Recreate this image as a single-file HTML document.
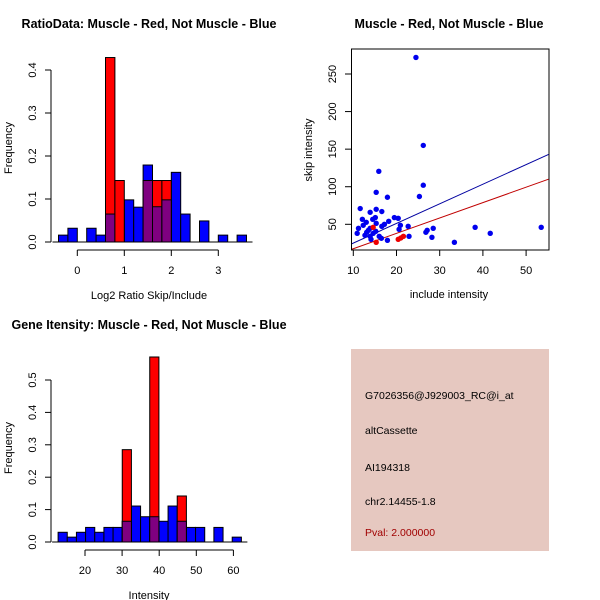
<!DOCTYPE html>
<html><head><meta charset="utf-8"><style>
body{margin:0;background:#fff}
svg{display:block;font-family:"Liberation Sans",sans-serif}
</style></head><body>
<svg id="chart" width="600" height="600">
<text x="149" y="28" text-anchor="middle" font-size="12.5" font-weight="bold">RatioData: Muscle - Red, Not Muscle - Blue</text>
<text x="449" y="28" text-anchor="middle" font-size="12.5" font-weight="bold">Muscle - Red, Not Muscle - Blue</text>
<text x="149" y="329" text-anchor="middle" font-size="12.5" font-weight="bold">Gene Itensity: Muscle - Red, Not Muscle - Blue</text>
<g id="p1"></g>
<g id="p2"></g>
<g id="p3"></g>
<g>
<rect x="351" y="349" width="198" height="202" fill="#e6c8c0"/>
<g font-size="10.5" fill="#000">
<text x="365" y="399">G7026356@J929003_RC@i_at</text>
<text x="365" y="434">altCassette</text>
<text x="365" y="471">AI194318</text>
<text x="365" y="505">chr2.14455-1.8</text>
<text x="365" y="536" fill="#a00000">Pval: 2.000000</text>
</g></g>
</svg>
<script>
const NS="http://www.w3.org/2000/svg";
// Ratio histogram data
const ratioStart=-0.4, ratioWidth=0.2;
const ratioBlue=[0.016,0.032,0,0.032,0.016,0.065,0,0.098,0.081,0.179,0.082,0.098,0.162,0.065,0,0.049,0,0.016,0,0.016];
const ratioRed=[0,0,0,0,0,0.429,0.143,0,0,0.143,0.143,0.143,0,0,0,0,0,0,0,0];
const ratioXTicks=[0,1,2,3];
const ratioYTicks=["0.0","0.1","0.2","0.3","0.4"];
// Intensity histogram data
const intStart=12.75, intWidth=2.47;
const intBlue=[0.030,0.015,0.030,0.045,0.030,0.045,0.045,0.064,0.111,0.078,0.078,0.064,0.111,0.064,0.045,0.045,0,0.045,0,0.015];
const intRed=[0,0,0,0,0,0,0,0.285,0,0,0.571,0,0,0.142,0,0,0,0,0,0];
const intXTicks=[20,30,40,50,60];
const intYTicks=["0.0","0.1","0.2","0.3","0.4","0.5"];
// Scatter data
const blueX=[24.5,26.2,15.9,26.2,15.3,25.3,17.9,11.6,15.3,16.6,13.9,19.5,20.4,15.1,12.1,14.5,18.2,13,15.3,17.2,12.3,20.9,22.7,16.6,11.2,13.9,28.5,38.2,53.5,20.6,27.1,26.8,10.9,41.7,13.1,14.6,12.7,13.9,16,22.9,28.2,14.1,17.9,33.4,16.5,13.5,15.2];
const blueY=[272,155,120.5,102,92.6,87,86,71,70,67,66,59,58,59,56.6,56.6,54,52.7,51.3,50,48.7,48.7,47.3,47.3,44.7,44.7,44.7,46,46,43.3,42,39.4,38,38,39.4,38,35.4,34,34,34,32.7,30,28.7,26,31.4,42,40.7];
const redX=[14.6,15.3,20.4,21,21.6];
const redY=[46,26,30,31.8,34];
const blueFit=[9.6,24,55.2,143];
const redFit=[9.6,16.7,55.2,110];
const scXTicks=[10,20,30,40,50];
const scYTicks=[50,100,150,200,250];

function el(parent,tag,attrs){const e=document.createElementNS(NS,tag);for(const k in attrs)e.setAttribute(k,attrs[k]);parent.appendChild(e);return e;}
function txt(parent,x,y,s,extra){const t=el(parent,"text",Object.assign({x:x,y:y,"font-size":"11","text-anchor":"middle"},extra||{}));t.textContent=s;return t;}

function hist(g,start,width,blue,red,xs,ys,xTicks,yTicks,yStep,xlabel,xAxisY,freqY,prefix){
  const y0=ys(0);
  for(let i=0;i<blue.length;i++){
    const x1=xs(start+i*width),x2=xs(start+(i+1)*width);
    if(blue[i]>0){const r=el(g,"rect",{x:x1,y:ys(blue[i]),width:x2-x1,height:y0-ys(blue[i]),fill:"#0000ff",stroke:"#000","stroke-width":1});
      
      }
  }
  for(let i=0;i<red.length;i++){
    if(red[i]<=0)continue;
    const x1=xs(start+i*width),x2=xs(start+(i+1)*width);
    const r=el(g,"rect",{x:x1,y:ys(red[i]),width:x2-x1,height:y0-ys(red[i]),fill:"#ff0000",stroke:"#000","stroke-width":1});
    
    
    const m=Math.min(red[i],blue[i]);
    if(m>0){const p=el(g,"rect",{x:x1,y:ys(m),width:x2-x1,height:y0-ys(m),fill:"#7f0080",stroke:"#000","stroke-width":1});
      
      }
  }
  el(g,"line",{x1:xs(start)-6,x2:xs(start+blue.length*width)+6,y1:y0,y2:y0,stroke:"#000"});
  const yt=yTicks.map((s,i)=>ys(i*yStep));
  el(g,"line",{x1:51,x2:51,y1:yt[0],y2:yt[yt.length-1],stroke:"#000"});
  yTicks.forEach((s,i)=>{el(g,"line",{x1:45,x2:51,y1:yt[i],y2:yt[i],stroke:"#000"});
    txt(g,36,yt[i],s,{transform:`rotate(-90 36 ${yt[i]})`});});
  el(g,"line",{x1:xs(xTicks[0]),x2:xs(xTicks[xTicks.length-1]),y1:xAxisY,y2:xAxisY,stroke:"#000"});
  xTicks.forEach(v=>{el(g,"line",{x1:xs(v),x2:xs(v),y1:xAxisY,y2:xAxisY+6,stroke:"#000"});txt(g,xs(v),xAxisY+24,String(v));});
  txt(g,149,xAxisY+49,xlabel);
  txt(g,12,freqY,"Frequency",{transform:`rotate(-90 12 ${freqY})`});
}

const g1=document.getElementById("p1");
hist(g1,ratioStart,ratioWidth,ratioBlue,ratioRed,v=>77.3+v*47,v=>242-v*430,ratioXTicks,ratioYTicks,0.1,"Log2 Ratio Skip/Include",250,148,"ratio");
const g3=document.getElementById("p3");
hist(g3,intStart,intWidth,intBlue,intRed,v=>85+(v-20)*3.71,v=>542-v*324,intXTicks,intYTicks,0.1,"Intensity",550,448,"intensity");

const g2=document.getElementById("p2");
const sx=v=>353.3+(v-10)*4.32, sy=v=>224.3-(v-50)*0.7515;
el(g2,"rect",{x:351.5,y:49,width:197.5,height:201,fill:"none",stroke:"#000"});
scXTicks.forEach(v=>{el(g2,"line",{x1:sx(v),x2:sx(v),y1:250,y2:256,stroke:"#000"});txt(g2,sx(v),274,String(v));});
scYTicks.forEach(v=>{el(g2,"line",{x1:345,x2:351.5,y1:sy(v),y2:sy(v),stroke:"#000"});txt(g2,336,sy(v),String(v),{transform:`rotate(-90 336 ${sy(v)})`});});
txt(g2,449,298,"include intensity");
txt(g2,312,150,"skip intensity",{transform:"rotate(-90 312 150)"});
const defs=el(g2,"clipPath",{id:"clip"});el(defs,"rect",{x:352,y:49,width:197,height:201});
const lb=el(g2,"line",{x1:sx(blueFit[0]),y1:sy(blueFit[1]),x2:sx(blueFit[2]),y2:sy(blueFit[3]),stroke:"#0000a0","stroke-width":1,"clip-path":"url(#clip)"});


const lr=el(g2,"line",{x1:sx(redFit[0]),y1:sy(redFit[1]),x2:sx(redFit[2]),y2:sy(redFit[3]),stroke:"#c00000","stroke-width":1,"clip-path":"url(#clip)"});


blueX.forEach((x,i)=>{const c=el(g2,"circle",{cx:sx(x),cy:sy(blueY[i]),r:2.7,fill:"#0000ee"});
  
  });
redX.forEach((x,i)=>{const c=el(g2,"circle",{cx:sx(x),cy:sy(redY[i]),r:2.7,fill:"#ee0000"});
  
  });
</script>
</body></html>
